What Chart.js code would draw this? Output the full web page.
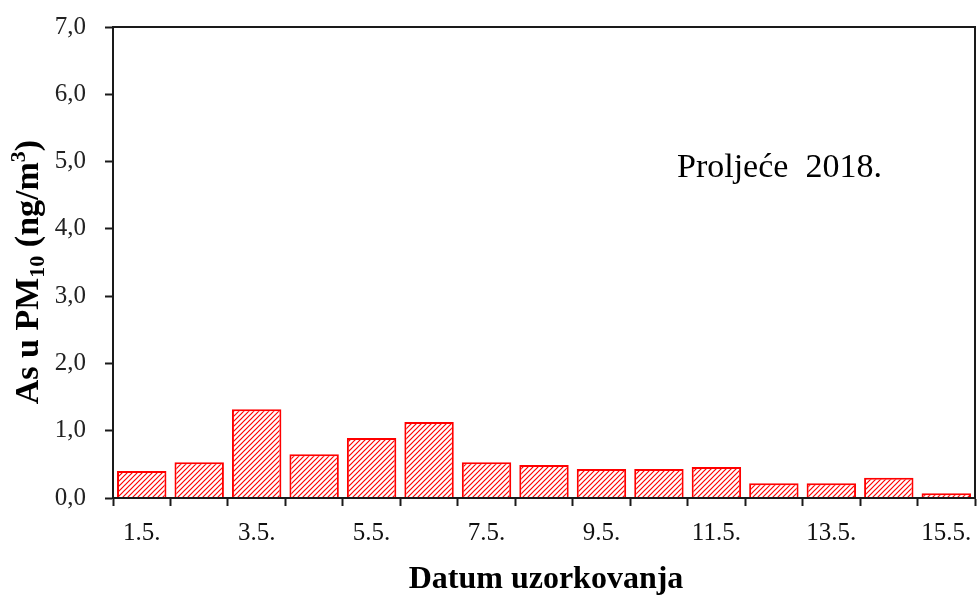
<!DOCTYPE html>
<html>
<head>
<meta charset="utf-8">
<script src="https://cdn.jsdelivr.net/npm/chart.js@4.4.1/dist/chart.umd.min.js"></script>
<style>
	html, body { margin: 0; padding: 0; background: #fff; }
	#wrap { width: 978px; height: 595px; }
</style>
</head>
<body>
<div id="wrap"><canvas id="asChart" width="978" height="595"></canvas></div>
<script>
const dates = ["1.5.", "2.5.", "3.5.", "4.5.", "5.5.", "6.5.", "7.5.", "8.5.", "9.5.", "10.5.", "11.5.", "12.5.", "13.5.", "14.5.", "15.5."];
const asValues = [0.40, 0.53, 1.32, 0.65, 0.89, 1.13, 0.53, 0.49, 0.43, 0.43, 0.46, 0.22, 0.22, 0.30, 0.07];
const yTicks = [0, 1, 2, 3, 4, 5, 6, 7];

const serif = "'Liberation Serif', 'Times New Roman', serif";

// hatch pattern for bars
function makeHatch() {
	const size = 5;
	const c = document.createElement("canvas");
	c.width = size;
	c.height = size;
	const g = c.getContext("2d");
	g.fillStyle = "#fff";
	g.fillRect(0, 0, size, size);
	g.strokeStyle = "#ff0000";
	g.lineWidth = 1.2;
	g.beginPath();
	g.moveTo(-1, size + 1);
	g.lineTo(size + 1, -1);
	g.moveTo(-1, 1);
	g.lineTo(1, -1);
	g.moveTo(size - 1, size + 1);
	g.lineTo(size + 1, size - 1);
	g.stroke();
	return g.createPattern(c, "repeat");
}

const extras = {
	id: "extras",
	afterDraw(chart) {
		const ctx = chart.ctx;
		const a = chart.chartArea;
		ctx.save();
		// frame
		ctx.strokeStyle = "#1a1a1a";
		ctx.lineWidth = 2;
		ctx.strokeRect(a.left, a.top, a.right - a.left, a.bottom - a.top);

		// season label
		ctx.fillStyle = "#000";
		ctx.font = "34px " + serif;
		ctx.textBaseline = "alphabetic";
		ctx.textAlign = "left";
		ctx.fillText("Proljeće  2018.", 677, 177);

		// x title
		ctx.textAlign = "center";
		ctx.font = "bold 32px " + serif;
		ctx.fillText("Datum uzorkovanja", 546, 588);

		// y title with sub/superscript
		ctx.textAlign = "left";
		const big = "bold 34px " + serif;
		const small = "bold 22px " + serif;
		const parts = [
			{ t: "As u PM", f: big, dy: 0 },
			{ t: "10", f: small, dy: 6 },
			{ t: " (ng/m", f: big, dy: 0 },
			{ t: "3", f: small, dy: -13 },
			{ t: ")", f: big, dy: 0 }
		];
		let total = 0;
		parts.forEach(p => { ctx.font = p.f; p.w = ctx.measureText(p.t).width; total += p.w; });
		ctx.translate(38, 272);
		ctx.rotate(-Math.PI / 2);
		let x = -total / 2;
		parts.forEach(p => {
			ctx.font = p.f;
			ctx.fillText(p.t, x, p.dy);
			x += p.w;
		});
		ctx.restore();
	}
};

const ctx = document.getElementById("asChart").getContext("2d");
new Chart(ctx, {
	type: "bar",
	data: {
		labels: dates,
		datasets: [{
			data: asValues,
			backgroundColor: makeHatch(),
			borderColor: "#ff0000",
			borderWidth: 2,
			barPercentage: 0.86,
			categoryPercentage: 1.0
		}]
	},
	options: {
		responsive: false,
		animation: false,
		layout: { padding: { top: 27, right: 3, left: 0, bottom: 0 } },
		scales: {
			x: {
				grid: {
					offset: true,
					drawOnChartArea: false,
					drawTicks: true,
					tickLength: 8,
					tickColor: "#1a1a1a",
					tickWidth: 2
				},
				border: { color: "#1a1a1a", width: 2 },
				ticks: {
					autoSkip: false,
					maxRotation: 0,
					padding: 12,
					color: "#111",
					font: { family: serif, size: 25 },
					callback: function (v, i) { return i % 2 === 0 ? dates[i] : ""; }
				},
				afterFit(scale) {
					scale.height = 97;
					scale.paddingLeft = 0;
					scale.paddingRight = 0;
				}
			},
			y: {
				min: 0,
				max: 7,
				grid: {
					drawOnChartArea: false,
					drawTicks: true,
					tickLength: 8,
					tickColor: "#1a1a1a",
					tickWidth: 2
				},
				border: { color: "#1a1a1a", width: 2 },
				afterBuildTicks(scale) { scale.ticks = yTicks.map(v => ({ value: v })); },
				ticks: {
					padding: 19,
					color: "#222",
					font: { family: serif, size: 25 },
					callback: v => v.toFixed(1).replace(".", ",")
				},
				afterFit(scale) {
					scale.width = 113;
					scale.paddingTop = 0;
					scale.paddingBottom = 0;
				}
			}
		},
		plugins: {
			legend: { display: false },
			tooltip: { enabled: false }
		}
	},
	plugins: [extras]
});
</script>
</body>
</html>
